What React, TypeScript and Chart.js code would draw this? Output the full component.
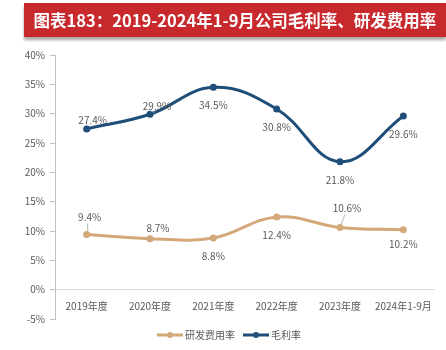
import React, { useEffect, useRef } from "react";
import { Chart, registerables } from "chart.js";

Chart.register(...registerables);

const categories = ["2019年度", "2020年度", "2021年度", "2022年度", "2023年度", "2024年1-9月"];
const grossMargin = [27.4, 29.9, 34.5, 30.8, 21.8, 29.6];
const rdRate = [9.4, 8.7, 8.8, 12.4, 10.6, 10.2];
const yTicks = [-5, 0, 5, 10, 15, 20, 25, 30, 35, 40];
const titleText = "图表183：2019-2024年1-9月公司毛利率、研发费用率";

const BLUE = "#1F4E79";
const TAN = "#D5A87A";
const TEXT = "#595959";
const FONT = "'Noto Sans CJK SC', 'Noto Sans', sans-serif";

// label placement style: [dx, dy, leader]
const rdLabelStyle: [number, number, boolean][] = [
  [3, -17, true],
  [8, -10, false],
  [0, 18, false],
  [0, 18, false],
  [7, -19, true],
  [0, 14, false],
];
const gmLabelStyle: [number, number, boolean][] = [
  [6, -9, false],
  [7, -8, true],
  [0, 18, false],
  [0, 18, false],
  [0, 18, false],
  [0, 18, false],
];

function legendIcon(color: string) {
  const c = document.createElement("canvas");
  c.width = 26;
  c.height = 8;
  const ctx = c.getContext("2d")!;
  ctx.strokeStyle = color;
  ctx.lineWidth = 3;
  ctx.beginPath();
  ctx.moveTo(0, 4);
  ctx.lineTo(26, 4);
  ctx.stroke();
  ctx.fillStyle = color;
  ctx.beginPath();
  ctx.arc(13, 4, 3, 0, Math.PI * 2);
  ctx.fill();
  return c;
}

const labelPlugin = {
  id: "valueLabels",
  afterLayout(chart: any) {
    if (chart.legend) {
      chart.legend.left += 13;
      chart.legend.right += 13;
    }
  },
  afterDatasetsDraw(chart: any) {
    const ctx = chart.ctx;
    ctx.save();
    ctx.font = `10px ${FONT}`;
    ctx.fillStyle = TEXT;
    ctx.textAlign = "center";
    ctx.textBaseline = "middle";
    chart.data.datasets.forEach((ds: any, di: number) => {
      const meta = chart.getDatasetMeta(di);
      const styles = ds.labelStyle as [number, number, boolean][];
      meta.data.forEach((pt: any, i: number) => {
        const [dx, dy, leader] = styles[i];
        const x = pt.x + dx;
        const y = pt.y + dy;
        ctx.fillText(ds.data[i].toFixed(1) + "%", x, y);
        if (leader) {
          ctx.strokeStyle = "#A6A6A6";
          ctx.lineWidth = 0.8;
          ctx.beginPath();
          ctx.moveTo(x - 2, y + 6);
          ctx.lineTo(pt.x + 1, pt.y - 3);
          ctx.stroke();
        }
      });
    });
    ctx.restore();
  },
};

export default function App() {
  const ref = useRef<HTMLCanvasElement>(null);
  useEffect(() => {
    const chart = new Chart(ref.current!, {
      type: "line",
      data: {
        labels: categories,
        datasets: [
          {
            label: "研发费用率",
            data: rdRate,
            borderColor: TAN,
            backgroundColor: TAN,
            borderWidth: 3,
            pointRadius: 3.5,
            pointBackgroundColor: TAN,
            pointBorderWidth: 0,
            tension: 0.4,
            labelStyle: rdLabelStyle,
          } as any,
          {
            label: "毛利率",
            data: grossMargin,
            borderColor: BLUE,
            backgroundColor: BLUE,
            borderWidth: 3,
            pointRadius: 3.5,
            pointBackgroundColor: BLUE,
            pointBorderWidth: 0,
            tension: 0.4,
            labelStyle: gmLabelStyle,
          } as any,
        ],
      },
      options: {
        animation: false,
        responsive: false,
        maintainAspectRatio: false,
        layout: { padding: { top: 55, right: 11, left: 0, bottom: 0 } },
        plugins: {
          title: { display: false },
          tooltip: { enabled: false },
          legend: {
            position: "bottom",
            labels: {
              usePointStyle: true,
              pointStyleWidth: 20,
              boxHeight: 8,
              padding: 11,
              color: TEXT,
              font: { size: 10, family: FONT },
              generateLabels(c: any) {
                return c.data.datasets.map((ds: any, i: number) => ({
                  text: ds.label,
                  fillStyle: ds.borderColor,
                  strokeStyle: ds.borderColor,
                  lineWidth: 0,
                  pointStyle: legendIcon(ds.borderColor),
                  hidden: false,
                  datasetIndex: i,
                  fontColor: TEXT,
                }));
              },
            },
          },
        },
        scales: {
          x: {
            position: { y: 0 } as any,
            offset: true,
            grid: { display: false, offset: true },
            border: { display: false },
            ticks: {
              color: TEXT,
              font: { size: 10, family: FONT },
              padding: 3,
              maxRotation: 0,
              autoSkip: false,
            },
          },
          y: {
            min: -5,
            max: 40,
            afterFit(scale: any) {
              scale.width = 55;
            },
            afterBuildTicks(scale: any) {
              scale.ticks = yTicks.map((v) => ({ value: v }));
            },
            border: { display: true, color: "#BFBFBF", width: 1 },
            grid: {
              drawTicks: true,
              tickLength: 5,
              tickColor: "#BFBFBF",
              color: (c: any) => (c.tick && c.tick.value === 0 ? "#D9D9D9" : "rgba(0,0,0,0)"),
              lineWidth: 1,
            },
            ticks: {
              color: TEXT,
              font: { size: 10, family: FONT },
              padding: 5,
              callback: (v: any) => v + "%",
            },
          },
        },
      },
      plugins: [labelPlugin],
    });
    return () => chart.destroy();
  }, []);

  return (
    <div style={{ position: "fixed", left: 0, top: 0, width: 446, height: 350, background: "#fff" }}>
      <canvas ref={ref} width={446} height={350} style={{ position: "absolute", left: 0, top: 0 }} />
      <div
        style={{
          position: "absolute",
          left: 24,
          top: 3,
          width: 422,
          height: 34,
          background: "#C8292D",
          boxShadow: "0 3px 3px rgba(0,0,0,0.35)",
          color: "#fff",
          fontFamily: FONT,
          fontWeight: "bold",
          fontSize: 16.5,
          lineHeight: "34px",
          textAlign: "center",
          whiteSpace: "nowrap",
        }}
      >
        {titleText}
      </div>
    </div>
  );
}
